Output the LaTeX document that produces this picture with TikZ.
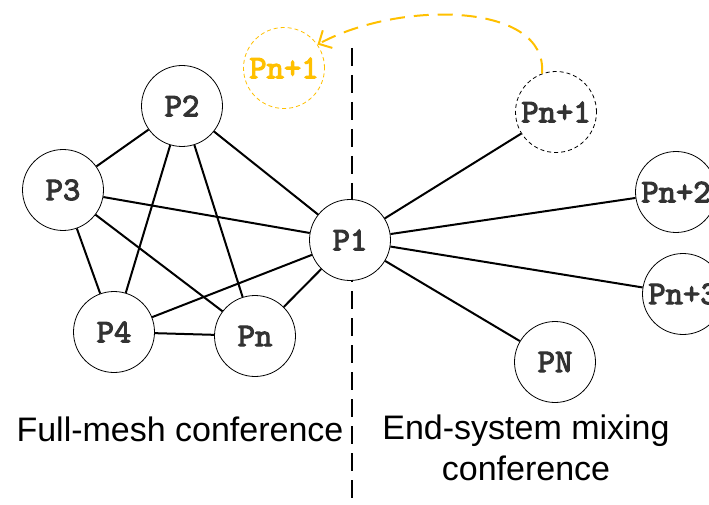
\documentclass[tikz,border=0pt]{standalone}
\usepackage{fontspec}
\setmainfont{Liberation Sans}
\newfontfamily\pfont{lmmono10-regular}[Extension=.otf, AutoFakeBold=3.2]
\usetikzlibrary{arrows.meta}
\definecolor{gold}{HTML}{FFC000}
\definecolor{ink}{HTML}{333333}

\begin{document}
\begin{tikzpicture}[x=1pt,y=-1pt,
	pstyle/.style={circle, draw=black, fill=white, line width=0.8pt,
	minimum size=81pt, inner sep=0pt, text=ink,
	font=\fontsize{33}{33}\selectfont\pfont\bfseries},
	ghost/.style={pstyle, draw=gold, text=gold, dash pattern=on 4pt off 3pt},
	link/.style={line width=2pt},
	lbl/.style={inner sep=0pt, align=center,
	font=\fontsize{34}{41}\selectfont}
	]
	\useasboundingbox (0,0) rectangle (709,505);
	
	% divider
	\coordinate (top) at (352,48);
	\coordinate (bot) at (352,505);
	\draw[line width=2pt, dash pattern=on 18pt off 9pt] (top) -- (bot);
	
	% full mesh side
	\node[pstyle] (2) at (182,106) {P2};
	\node[pstyle] (3) at (63,190) {P3};
	\node[pstyle] (4) at (114,332) {P4};
	\node[pstyle] (n) at (255,336) {Pn};
	\node[pstyle] (1) at (350,240) {P1};
	
	% end-system side
	\node[pstyle, dash pattern=on 4pt off 3pt] (n1) at (556,112) {Pn+1};
	\node[pstyle] (n2) at (676,192) {Pn+2};
	\node[pstyle] (n3) at (683,294) {Pn+3};
	\node[pstyle] (N) at (555,362) {PN};
	\node[ghost] (g) at (284,68) {Pn+1};
	
	\draw[link] (2) to (3);
	\draw[link] (2) to (4);
	\draw[link] (2) to (n);
	\draw[link] (2) to (1);
	\draw[link] (3) to (1);
	\draw[link] (3) to (4);
	\draw[link] (3) to (n);
	\draw[link] (4) to (n);
	\draw[link] (4) to (1);
	\draw[link] (n) to (1);
	
	\draw[link] (1) to (n1);
	\draw[link] (1) to (n2);
	\draw[link] (1) to (n3);
	\draw[link] (1) to (N);
	
	\draw[->, >={Straight Barb[length=10pt,width=20pt]}, draw=gold, line width=2pt,
	dash pattern=on 15pt off 9pt]
	(n1.110) .. controls (548,2) and (400,0) .. (g.35);
	
	\node[lbl] (full) at (180,429) {Full-mesh conference};
	\node[lbl] (mix) at (526,448) {End-system mixing\\conference};
\end{tikzpicture}
\end{document}
